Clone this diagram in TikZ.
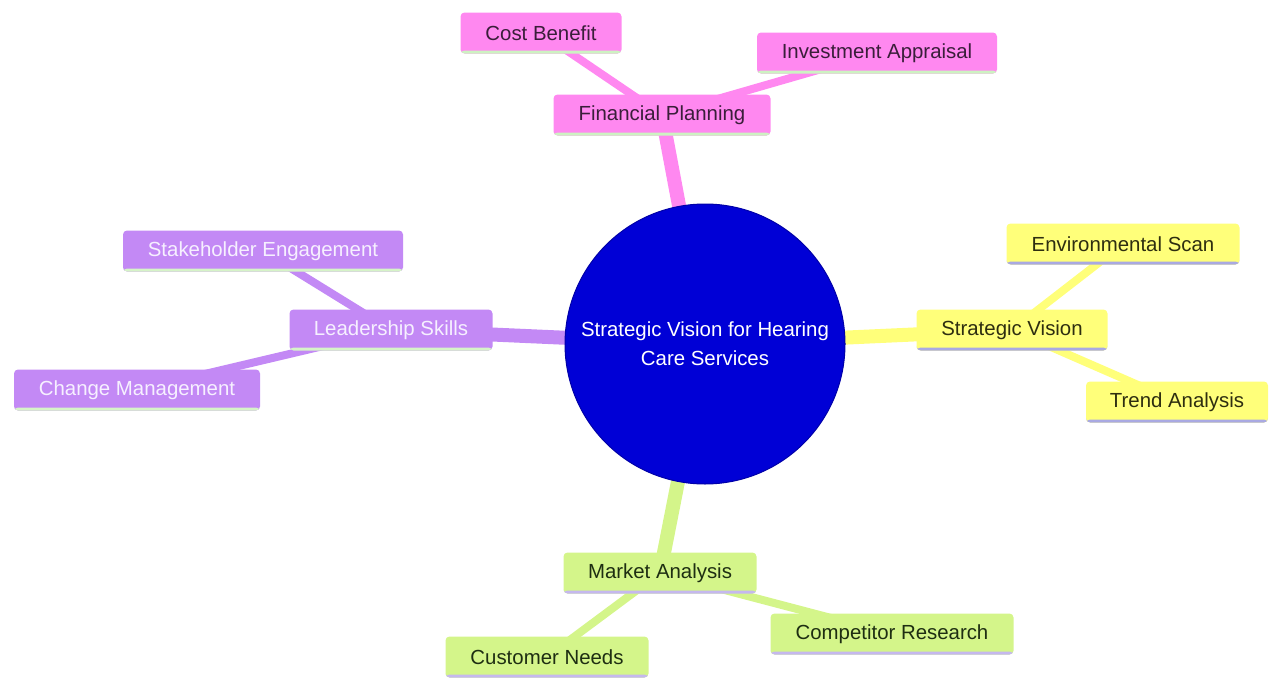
\documentclass[tikz,border=0pt]{standalone}
\usepackage{fontspec}
\setmainfont{Liberation Sans}
\usetikzlibrary{backgrounds}
\definecolor{pinkf}{HTML}{FF88F0}
\definecolor{yellowf}{HTML}{FFFF7A}
\definecolor{purplef}{HTML}{C389F5}
\definecolor{greenf}{HTML}{D4F58A}
\definecolor{rootf}{HTML}{0000D6}
\definecolor{rootd}{HTML}{0000A8}
\definecolor{pinkb}{HTML}{CDF2C2}
\definecolor{yellowb}{HTML}{A9A9E2}
\definecolor{purpleb}{HTML}{D6F3C8}
\definecolor{greenb}{HTML}{C5B8EE}
\definecolor{pinkt}{HTML}{3A1E3A}
\definecolor{yellowt}{HTML}{2E2E10}
\definecolor{purplet}{HTML}{F6F0FF}
\definecolor{greent}{HTML}{1E2E12}
\tikzset{
  every node/.style={font=\fontsize{20.4}{29}\selectfont},
  leaf/.style n args={3}{rectangle, rounded corners=4pt, fill=#1, text=#3,
    minimum height=41pt, inner sep=0pt,
    path picture={\fill[#2] ([yshift=3pt]path picture bounding box.south west) rectangle (path picture bounding box.south east);}},
  pinknode/.style={leaf={pinkf}{pinkb}{pinkt}},
  yellownode/.style={leaf={yellowf}{yellowb}{yellowt}},
  purplenode/.style={leaf={purplef}{purpleb}{purplet}},
  greennode/.style={leaf={greenf}{greenb}{greent}},
  mainedge/.style={line width=14pt},
  subedge/.style={line width=8pt},
}
\begin{document}
\begin{tikzpicture}[x=1pt,y=-1pt]
\useasboundingbox (0,0) rectangle (1269,680);
% root
\node[circle, fill=rootf, draw=rootd, line width=1pt, minimum size=280pt, inner sep=0pt,
      text=white, align=center] (root) at (705,344) {Strategic Vision for Hearing\\Care Services};
% financial planning branch
\node[pinknode, minimum width=217pt] (fp) at (662,115) {Financial Planning};
\node[pinknode, minimum width=161pt] (cb) at (541,33) {Cost Benefit};
\node[pinknode, minimum width=240pt] (ia) at (877,53) {Investment Appraisal};
% strategic vision branch
\node[yellownode, minimum width=191pt] (sv) at (1012,330) {Strategic Vision};
\node[yellownode, minimum width=233pt] (es) at (1123,244) {Environmental Scan};
\node[yellownode, minimum width=182pt] (ta) at (1177,402) {Trend Analysis};
% leadership branch
\node[purplenode, minimum width=203pt] (ls) at (391,330) {Leadership Skills};
\node[purplenode, minimum width=280pt] (se) at (263,251) {Stakeholder Engagement};
\node[purplenode, minimum width=246pt] (cm) at (137,390) {Change Management};
% market analysis branch
\node[greennode, minimum width=193pt] (ma) at (660,573) {Market Analysis};
\node[greennode, minimum width=203pt] (cn) at (547,657) {Customer Needs};
\node[greennode, minimum width=243pt] (cr) at (892,634) {Competitor Research};
\begin{scope}[on background layer]
  \draw[mainedge, pinkf] (root.center) -- (fp.center);
  \draw[mainedge, yellowf] (root.center) -- (sv.center);
  \draw[mainedge, purplef] (root.center) -- (ls.center);
  \draw[mainedge, greenf] (root.center) -- (ma.center);
  \draw[subedge, pinkf] (fp.center) -- (cb.center);
  \draw[subedge, pinkf] (fp.center) -- (ia.center);
  \draw[subedge, yellowf] (sv.center) -- (es.center);
  \draw[subedge, yellowf] (sv.center) -- (ta.center);
  \draw[subedge, purplef] (ls.center) -- (se.center);
  \draw[subedge, purplef] (ls.center) -- (cm.center);
  \draw[subedge, greenf] (ma.center) -- (cn.center);
  \draw[subedge, greenf] (ma.center) -- (cr.center);
\end{scope}
\end{tikzpicture}
\end{document}
